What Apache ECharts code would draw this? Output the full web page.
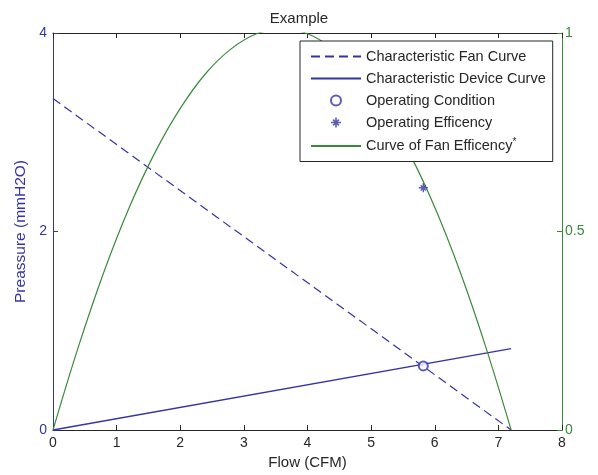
<!DOCTYPE html>
<html>
<head>
<meta charset="utf-8">
<script src="https://cdn.jsdelivr.net/npm/echarts@6/dist/echarts.min.js"></script>
<style>html,body{margin:0;padding:0;background:#fff}#c{width:598px;height:475px}</style>
</head>
<body>
<div id="c"></div>
<script>
// Data
var fanCurve = [[0, 3.34], [7.2, 0]];
var deviceCurve = [[0, 0], [7.2, 0.82]];
var operatingCondition = [[5.82, 0.645]];
var operatingEfficiency = [[5.82, 0.61]];
var effFlow = [0, 0.4, 0.8, 1.2, 1.6, 2.0, 2.4, 2.8, 3.2, 3.6, 4.0, 4.4, 4.8, 5.2, 5.6, 6.0, 6.4, 6.8, 7.2];
var effValue = [0, 0.21, 0.398, 0.561, 0.698, 0.81, 0.898, 0.96, 0.998, 1.01, 0.998, 0.96, 0.898, 0.81, 0.698, 0.561, 0.398, 0.21, 0];
var xTicks = [0, 1, 2, 3, 4, 5, 6, 7, 8];
var leftTicks = [0, 2, 4];
var rightTicks = [0, 0.5, 1];

var BLUE = '#3434a6', GREEN = '#3a8a3a', INK = '#262626', FONT = 'Liberation Sans, Arial, sans-serif';
var effCurve = effFlow.map(function (x, i) { return [x, effValue[i]]; });
var star = 'path://M-0.8,-5 L0.8,-5 L0.8,5 L-0.8,5 Z M-5,-0.8 L5,-0.8 L5,0.8 L-5,0.8 Z M-3.4,-2.3 L-2.3,-3.4 L3.4,2.3 L2.3,3.4 Z M2.3,-3.4 L3.4,-2.3 L-2.3,3.4 L-3.4,2.3 Z';

var chart = echarts.init(document.getElementById('c'), null, {renderer: 'canvas'});
chart.setOption({
  animation: false,
  backgroundColor: '#fff',
  textStyle: {fontFamily: FONT},
  title: {text: 'Example', left: 'center', top: 6, textStyle: {fontSize: 15, fontWeight: 'normal', color: INK, fontFamily: FONT}},
  grid: {left: 53, right: 36, top: 33, bottom: 43},
  legend: {
    left: 300, top: 41, orient: 'vertical', itemWidth: 50, itemHeight: 10, itemGap: 7,
    padding: [8, 7, 8, 10],
    backgroundColor: '#fff', borderColor: INK, borderWidth: 1,
    textStyle: {fontSize: 14.5, color: INK, fontFamily: FONT, rich: {s: {fontSize: 10, padding: [0, 0, 8, 0], color: INK}}},
    formatter: function (n) { return n === 'Curve of Fan Efficency' ? n + '{s|*}' : n; },
    data: [
      {name: 'Characteristic Fan Curve', itemStyle: {opacity: 0}},
      {name: 'Characteristic Device Curve', itemStyle: {opacity: 0}},
      {name: 'Operating Condition'},
      {name: 'Operating Efficency'},
      {name: 'Curve of Fan Efficency', itemStyle: {opacity: 0}}
    ]
  },
  xAxis: [{
    type: 'value', min: 0, max: 8, interval: 1, position: 'bottom',
    name: 'Flow (CFM)', nameLocation: 'middle', nameGap: 25,
    nameTextStyle: {fontSize: 15, color: INK, fontFamily: FONT},
    axisLine: {onZero: false, lineStyle: {color: INK}}, axisTick: {inside: true, length: 5, lineStyle: {color: INK}},
    axisLabel: {fontSize: 14, color: INK, margin: 6, fontFamily: FONT}, splitLine: {show: false}
  }, {
    type: 'value', min: 0, max: 8, interval: 1, position: 'top',
    axisLine: {onZero: false, lineStyle: {color: INK}}, axisTick: {inside: true, length: 5, lineStyle: {color: INK}},
    axisLabel: {show: false}, splitLine: {show: false}
  }],
  yAxis: [{
    type: 'value', min: 0, max: 4, interval: 2, position: 'left',
    name: 'Preassure (mmH2O)', nameLocation: 'middle', nameGap: 20,
    nameTextStyle: {fontSize: 15.5, color: BLUE, fontFamily: FONT},
    axisLine: {show: true, onZero: false, lineStyle: {color: BLUE}}, axisTick: {show: true, inside: true, length: 5, lineStyle: {color: BLUE}},
    axisLabel: {fontSize: 14, color: BLUE, margin: 6, fontFamily: FONT}, splitLine: {show: false}
  }, {
    type: 'value', min: 0, max: 1, interval: 0.5, position: 'right',
    axisLine: {show: true, onZero: false, lineStyle: {color: GREEN}}, axisTick: {show: true, inside: true, length: 5, lineStyle: {color: GREEN}},
    axisLabel: {fontSize: 14, color: GREEN, margin: 3, fontFamily: FONT}, splitLine: {show: false}
  }],
  series: [{
    name: 'Characteristic Fan Curve', type: 'line', data: fanCurve, symbol: 'none',
    lineStyle: {color: BLUE, width: 1.2, type: [9, 5]}, itemStyle: {color: BLUE}
  }, {
    name: 'Characteristic Device Curve', type: 'line', data: deviceCurve, symbol: 'none',
    lineStyle: {color: BLUE, width: 1.4}, itemStyle: {color: BLUE}
  }, {
    name: 'Operating Condition', type: 'scatter', data: operatingCondition, symbol: 'emptyCircle', symbolSize: 9,
    itemStyle: {color: BLUE, borderWidth: 1.5}, z: 5
  }, {
    name: 'Operating Efficency', type: 'scatter', yAxisIndex: 1, data: operatingEfficiency, symbol: star, symbolSize: 9,
    itemStyle: {color: BLUE}, z: 5
  }, {
    name: 'Curve of Fan Efficency', type: 'line', yAxisIndex: 1, data: effCurve, symbol: 'none', smooth: 0.4,
    lineStyle: {color: GREEN, width: 1.2}, itemStyle: {color: GREEN}, clip: true
  }]
});
</script>
</body>
</html>
